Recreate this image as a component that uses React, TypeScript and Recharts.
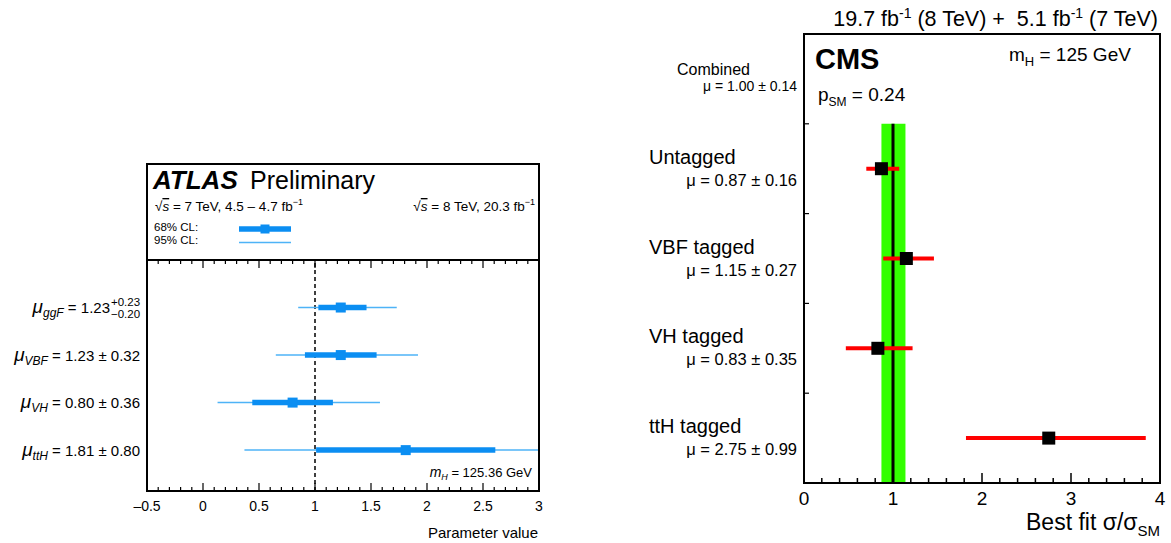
import { ScatterChart, Scatter, XAxis, YAxis, ErrorBar, ReferenceLine, ReferenceArea } from "recharts";

const FONT = '"Liberation Sans", Arial, Helvetica, sans-serif';

// ---- ATLAS panel data ----
const atlasProcesses = ["ggF", "VBF", "VH", "ttH"];
const atlasMu = [1.23, 1.23, 0.8, 1.81];
const atlasErr68 = [[0.2, 0.23], [0.32, 0.32], [0.36, 0.36], [0.8, 0.8]];
const atlasErr95 = [[0.38, 0.5], [0.58, 0.69], [0.67, 0.78], [1.44, 1.19]];
const atlasValueText = ["1.23", "1.23 ± 0.32", "0.80 ± 0.36", "1.81 ± 0.80"];
const atlasScripts = [["+0.23", "−0.20"], null, null, null];
const atlasTicks = [
  -0.5, -0.4, -0.3, -0.2, -0.1, 0, 0.1, 0.2, 0.3, 0.4, 0.5, 0.6, 0.7, 0.8, 0.9, 1, 1.1, 1.2,
  1.3, 1.4, 1.5, 1.6, 1.7, 1.8, 1.9, 2, 2.1, 2.2, 2.3, 2.4, 2.5, 2.6, 2.7, 2.8, 2.9, 3,
];
const atlasMajorTicks = [-0.5, 0, 0.5, 1, 1.5, 2, 2.5, 3];
const atlasMajorLabels = ["–0.5", "0", "0.5", "1", "1.5", "2", "2.5", "3"];

// ---- CMS panel data ----
const cmsCategories = ["Combined", "Untagged", "VBF tagged", "VH tagged", "ttH tagged"];
const cmsMuText = ["1.00 ± 0.14", "0.87 ± 0.16", "1.15 ± 0.27", "0.83 ± 0.35", "2.75 ± 0.99"];
const cmsMu = [0.87, 1.15, 0.83, 2.75];
const cmsErr = [[0.17, 0.2], [0.26, 0.31], [0.36, 0.39], [0.93, 1.09]];
const cmsCombined = 1.0;
const cmsCombinedBand = [0.87, 1.14];
const cmsTicks = [0, 0.2, 0.4, 0.6, 0.8, 1, 1.2, 1.4, 1.6, 1.8, 2, 2.2, 2.4, 2.6, 2.8, 3, 3.2, 3.4, 3.6, 3.8, 4];
const cmsMajorTicks = [0, 1, 2, 3, 4];
const cmsMajorLabels = ["0", "1", "2", "3", "4"];
const cmsYTicks = [0, 0.5, 1, 1.5, 2, 2.5, 3, 3.5, 4];

const ATLAS_BLUE = "#0b8ef2";
const ATLAS_LIGHT = "#4eb3f7";
const CMS_RED = "#ff0000";
const CMS_GREEN = "#33ff00";

const atlasData = atlasProcesses.map((p, i) => ({
  name: p,
  x: atlasMu[i],
  y: i + 1,
  e68: atlasErr68[i],
  e95: atlasErr95[i],
}));

const cmsData = cmsMu.map((m, i) => ({ name: cmsCategories[i + 1], x: m, y: i + 1, err: cmsErr[i] }));

const majorIndex = (v: number, majors: number[]) => majors.findIndex((m) => Math.abs(m - v) < 1e-6);

function AtlasBottomTick(props: any) {
  const { x, y, payload } = props;
  const k = majorIndex(payload.value, atlasMajorTicks);
  return (
    <g>
      <line x1={x} x2={x} y1={y} y2={y - (k >= 0 ? 8 : 4)} stroke="#000" strokeWidth={1.2} />
      {k >= 0 && (
        <text x={x} y={y + 20} textAnchor="middle" fontFamily={FONT} fontSize={14} fill="#000">
          {atlasMajorLabels[k]}
        </text>
      )}
    </g>
  );
}

function AtlasTopTick(props: any) {
  const { x, y, payload } = props;
  const k = majorIndex(payload.value, atlasMajorTicks);
  return <line x1={x} x2={x} y1={y} y2={y + (k >= 0 ? 8 : 4)} stroke="#000" strokeWidth={1.2} />;
}

function AtlasYTick(props: any) {
  const { x, y, payload } = props;
  const i = payload.value - 1;
  if (i < 0 || i >= atlasProcesses.length) return <g />;
  const scripts = atlasScripts[i];
  const right = x - 7;
  const mainEnd = scripts ? right - 30 : right;
  return (
    <g fontFamily={FONT} fill="#000">
      <text x={mainEnd} y={y + 5.5} textAnchor="end" fontSize={15}>
        <tspan fontStyle="italic" fontSize={19}>μ</tspan>
        <tspan fontStyle="italic" fontSize={12} dy={4}>{atlasProcesses[i]}</tspan>
        <tspan dy={-4}> = {atlasValueText[i]}</tspan>
      </text>
      {scripts && (
        <>
          <text x={mainEnd + 1} y={y - 2} fontSize={11.5}>{scripts[0]}</text>
          <text x={mainEnd + 1} y={y + 10} fontSize={11.5}>{scripts[1]}</text>
        </>
      )}
    </g>
  );
}

function CmsBottomTick(props: any) {
  const { x, y, payload } = props;
  const k = majorIndex(payload.value, cmsMajorTicks);
  return (
    <g>
      <line x1={x} x2={x} y1={y} y2={y - (k >= 0 ? 10 : 5)} stroke="#000" strokeWidth={1.5} />
      {k >= 0 && (
        <text x={x} y={y + 22} textAnchor="middle" fontFamily={FONT} fontSize={19} fill="#000">
          {cmsMajorLabels[k]}
        </text>
      )}
    </g>
  );
}

function CmsYTick(props: any) {
  const { x, y, payload } = props;
  const v = payload.value;
  if (!Number.isInteger(v)) {
    return <line x1={x} x2={x + 5} y1={y} y2={y} stroke="#000" strokeWidth={1.2} />;
  }
  if (v === 0) {
    return (
      <g fontFamily={FONT} fill="#000">
        <text x={x - 127} y={y - 4} fontSize={16}>{cmsCategories[0]}</text>
        <text x={x - 7} y={y + 12} textAnchor="end" fontSize={14}>μ = {cmsMuText[0]}</text>
      </g>
    );
  }
  return (
    <g fontFamily={FONT} fill="#000">
      <text x={x - 155} y={y - 5} fontSize={20}>{cmsCategories[v]}</text>
      <text x={x - 7} y={y + 17} textAnchor="end" fontSize={16.5}>μ = {cmsMuText[v]}</text>
    </g>
  );
}

const atlasSquare = (p: any) => <rect x={p.cx - 5} y={p.cy - 5} width={10} height={10} fill={ATLAS_BLUE} />;
const cmsSquare = (p: any) => <rect x={p.cx - 6.5} y={p.cy - 6.5} width={13} height={13} fill="#000" />;

function AtlasPanel() {
  return (
    <ScatterChart width={560} height={543} margin={{ top: 259, right: 21, bottom: 51, left: 146 }}>
      <XAxis
        type="number"
        dataKey="x"
        domain={[-0.5, 3]}
        allowDataOverflow
        ticks={atlasTicks}
        interval={0}
        height={1}
        tickSize={0}
        tickMargin={0}
        axisLine={false}
        tickLine={false}
        tick={AtlasBottomTick}
      />
      <XAxis
        xAxisId="top"
        orientation="top"
        type="number"
        dataKey="x"
        domain={[-0.5, 3]}
        allowDataOverflow
        ticks={atlasTicks}
        interval={0}
        height={1}
        tickSize={0}
        tickMargin={0}
        axisLine={false}
        tickLine={false}
        tick={AtlasTopTick}
      />
      <YAxis
        type="number"
        dataKey="y"
        domain={[0, 4.86]}
        reversed
        allowDataOverflow
        ticks={[1, 2, 3, 4]}
        interval={0}
        width={1}
        tickSize={0}
        tickMargin={0}
        axisLine={false}
        tickLine={false}
        tick={AtlasYTick}
      />
      <ReferenceLine x={1} stroke="#000" strokeWidth={1.5} strokeDasharray="4 3" />
      <Scatter data={atlasData} shape={atlasSquare} isAnimationActive={false}>
        <ErrorBar dataKey="e95" direction="x" width={0} stroke={ATLAS_LIGHT} strokeWidth={1.5} isAnimationActive={false} />
        <ErrorBar dataKey="e68" direction="x" width={0} stroke={ATLAS_BLUE} strokeWidth={5.5} isAnimationActive={false} />
      </Scatter>
    </ScatterChart>
  );
}

function CmsPanel() {
  return (
    <ScatterChart width={531} height={543} margin={{ top: 34, right: 11, bottom: 59, left: 163 }}>
      <XAxis
        type="number"
        dataKey="x"
        domain={[0, 4]}
        allowDataOverflow
        ticks={cmsTicks}
        interval={0}
        height={1}
        tickSize={0}
        tickMargin={0}
        axisLine={false}
        tickLine={false}
        tick={CmsBottomTick}
      />
      <YAxis
        type="number"
        dataKey="y"
        domain={[-0.5, 4.5]}
        reversed
        allowDataOverflow
        ticks={cmsYTicks}
        interval={0}
        width={1}
        tickSize={0}
        tickMargin={0}
        axisLine={false}
        tickLine={false}
        tick={CmsYTick}
      />
      <ReferenceArea
        x1={cmsCombinedBand[0]}
        x2={cmsCombinedBand[1]}
        y1={0.5}
        y2={4.5}
        fill={CMS_GREEN}
        fillOpacity={1}
        stroke="none"
      />
      <ReferenceLine
        segment={[
          { x: cmsCombined, y: 0.5 },
          { x: cmsCombined, y: 4.5 },
        ]}
        stroke="#000"
        strokeWidth={3}
      />
      <Scatter data={cmsData} shape={cmsSquare} isAnimationActive={false}>
        <ErrorBar dataKey="err" direction="x" width={0} stroke={CMS_RED} strokeWidth={4} isAnimationActive={false} />
      </Scatter>
    </ScatterChart>
  );
}

export default function App() {
  return (
    <div style={{ position: "absolute", left: 0, top: 0, width: 1171, height: 543, background: "#fff", overflow: "hidden" }}>
      <div style={{ position: "absolute", left: 0, top: 0 }}>
        <AtlasPanel />
      </div>
      <div style={{ position: "absolute", left: 640, top: 0 }}>
        <CmsPanel />
      </div>

      {/* frames */}
      <div style={{ position: "absolute", left: 146, top: 163, width: 394, height: 329, border: "2px solid #000", boxSizing: "border-box", pointerEvents: "none" }} />
      <div style={{ position: "absolute", left: 146, top: 259, width: 394, height: 2, background: "#000", pointerEvents: "none" }} />
      <div style={{ position: "absolute", left: 803, top: 33, width: 358, height: 451, border: "2px solid #000", boxSizing: "border-box", pointerEvents: "none" }} />

      {/* annotations */}
      <svg width={1171} height={543} style={{ position: "absolute", left: 0, top: 0, pointerEvents: "none" }} fontFamily={FONT}>
        <text x={153} y={189} fontSize={26} fontWeight="bold" fontStyle="italic">ATLAS</text>
        <text x={250} y={189} fontSize={25}>Preliminary</text>
        <text x={155} y={211} fontSize={13.5}>
          √<tspan fontStyle="italic" textDecoration="overline">s</tspan> = 7 TeV, 4.5 – 4.7 fb
          <tspan fontSize={9} dy={-6}>−1</tspan>
        </text>
        <text x={535} y={211} fontSize={13.5} textAnchor="end">
          √<tspan fontStyle="italic" textDecoration="overline">s</tspan> = 8 TeV, 20.3 fb
          <tspan fontSize={9} dy={-6}>−1</tspan>
        </text>
        <text x={154} y={231} fontSize={11.5}>68% CL:</text>
        <text x={154} y={244} fontSize={11.5}>95% CL:</text>
        <line x1={239} x2={291} y1={229} y2={229} stroke={ATLAS_BLUE} strokeWidth={5.5} />
        <rect x={260.5} y={224.5} width={9} height={9} fill={ATLAS_BLUE} />
        <line x1={239} x2={291} y1={242.5} y2={242.5} stroke={ATLAS_LIGHT} strokeWidth={1.5} />
        <text x={532} y={477} fontSize={13} textAnchor="end">
          <tspan fontStyle="italic" fontSize={14}>m</tspan>
          <tspan fontStyle="italic" fontSize={9} dy={3}>H</tspan>
          <tspan dy={-3}> = 125.36 GeV</tspan>
        </text>
        <text x={538} y={538} fontSize={15} textAnchor="end">Parameter value</text>

        <text x={1158} y={26} fontSize={21.5} textAnchor="end">
          19.7 fb<tspan fontSize={14} dy={-8}>-1</tspan>
          <tspan dy={8}> (8 TeV) +{"\u00a0"} 5.1 fb</tspan>
          <tspan fontSize={14} dy={-8}>-1</tspan>
          <tspan dy={8}> (7 TeV)</tspan>
        </text>
        <text x={815} y={69} fontSize={29} fontWeight="bold">CMS</text>
        <text x={1009} y={61} fontSize={19}>
          m<tspan fontSize={13} dy={5}>H</tspan>
          <tspan dy={-5}> = 125 GeV</tspan>
        </text>
        <text x={818} y={101} fontSize={19}>
          p<tspan fontSize={12} dy={5}>SM</tspan>
          <tspan dy={-5}> = 0.24</tspan>
        </text>
        <text x={1160} y={530} fontSize={23} textAnchor="end">
          Best fit σ/σ<tspan fontSize={15} dy={6}>SM</tspan>
        </text>
      </svg>
    </div>
  );
}
